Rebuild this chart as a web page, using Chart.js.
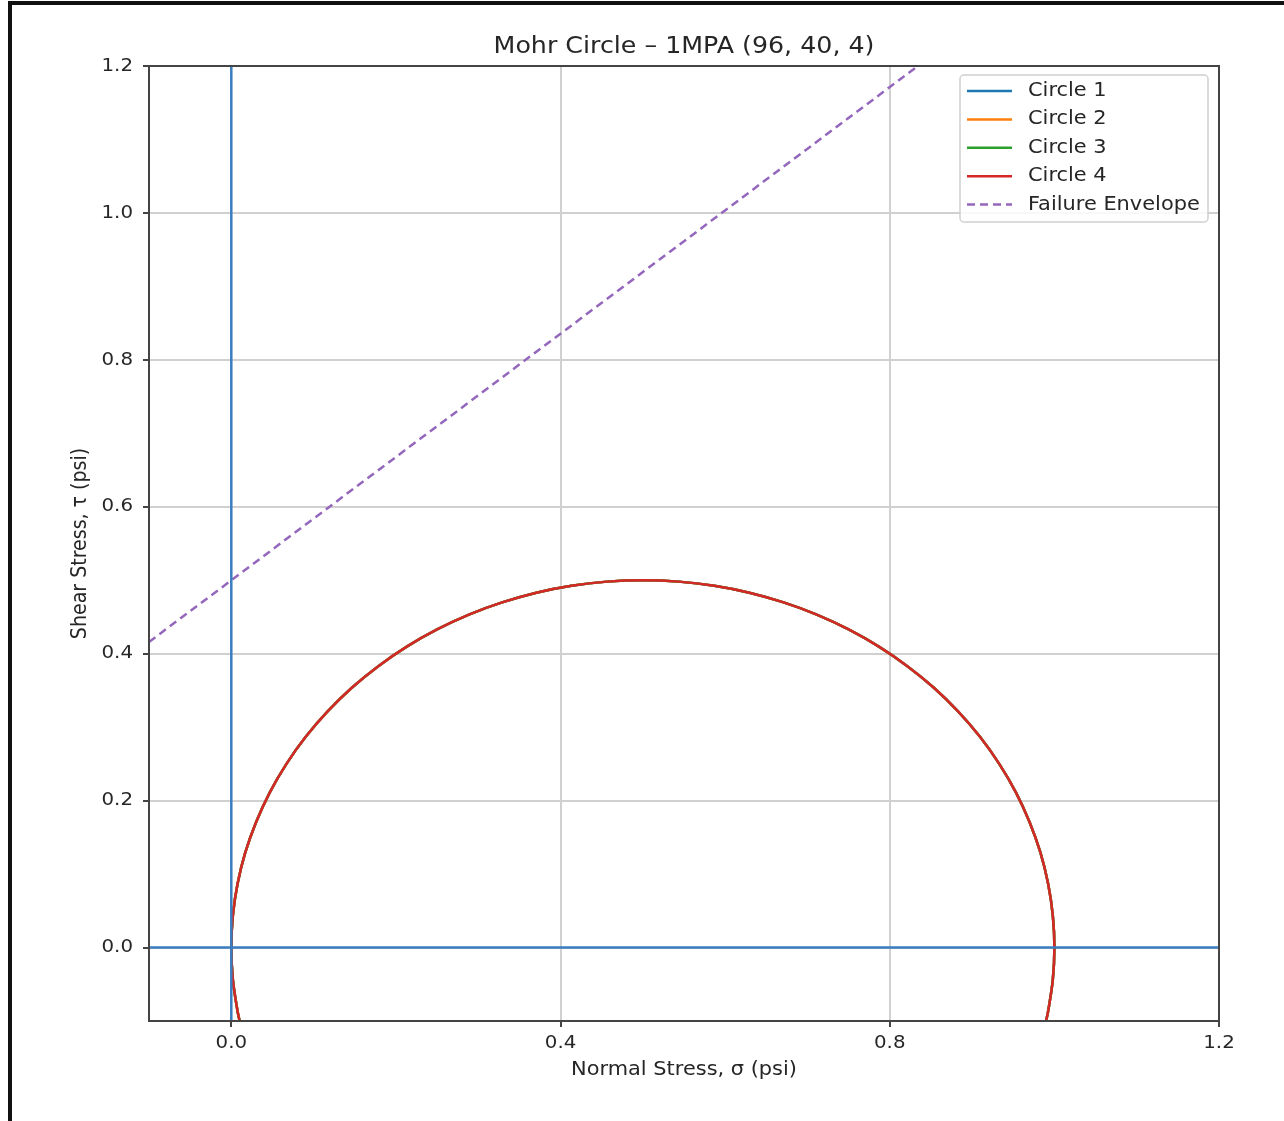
<!DOCTYPE html>
<html lang="en">
<head>
  <meta charset="UTF-8">
  <title>Mohr Circle</title>
  <script src="https://cdn.jsdelivr.net/npm/chart.js"></script>
  <style>
    body { margin: 0; background: #fff; }
    #frame { position: absolute; left: 8px; top: 1px; width: 1300px; height: 1140px;
             border-top: 4px solid #111; border-left: 4px solid #111; }
    #mohr { position: absolute; left: 0; top: 0; }
  </style>
</head>
<body>
  <div id="frame"></div>
  <canvas id="mohr" width="1284" height="1121"></canvas>

  <script>
    // values
    const xTicks = [0.0, 0.4, 0.8, 1.2];
    const yTicks = [0.0, 0.2, 0.4, 0.6, 0.8, 1.0, 1.2];

    // circle points (centre 0.5, radius 0.5)
    const circleX = [0.0101, 0.0076, 0.0019, 0.0, 0.0019, 0.0076, 0.0170, 0.0302, 0.0468, 0.0670, 0.0904,
                     0.1170, 0.1464, 0.1786, 0.2132, 0.25, 0.2887, 0.3290, 0.3706, 0.4132, 0.4564, 0.5,
                     0.5436, 0.5868, 0.6294, 0.6710, 0.7113, 0.75, 0.7868, 0.8214, 0.8536, 0.8830, 0.9096,
                     0.9330, 0.9532, 0.9698, 0.9830, 0.9924, 0.9981, 1.0, 0.9981, 0.9924, 0.9899];
    const circleY = [-0.1, -0.0868, -0.0436, 0.0, 0.0436, 0.0868, 0.1294, 0.1710, 0.2113, 0.25, 0.2868,
                     0.3214, 0.3536, 0.3830, 0.4096, 0.4330, 0.4532, 0.4698, 0.4830, 0.4924, 0.4981, 0.5,
                     0.4981, 0.4924, 0.4830, 0.4698, 0.4532, 0.4330, 0.4096, 0.3830, 0.3536, 0.3214, 0.2868,
                     0.25, 0.2113, 0.1710, 0.1294, 0.0868, 0.0436, 0.0, -0.0436, -0.0868, -0.1];

    const envelopeX = [-0.1, 1.2];
    const envelopeY = [0.416, 1.507];

    const hLineX = [-0.1, 1.2];
    const hLineY = [0, 0];
    const vLineX = [0, 0];
    const vLineY = [-0.1, 1.2];

    const circleLabels = ['Circle 1', 'Circle 2', 'Circle 3', 'Circle 4'];
    const circleColors = ['#1f77b4', '#ff7f0e', '#2ca02c', '#d62728'];

    const pts = (xs, ys) => xs.map((x, i) => ({ x: x, y: ys[i] }));
    const FONT = 'DejaVu Sans';
    const STRETCH = 1.1; // the reference text is a bit wide

    const datasets = [];
    circleLabels.forEach((lab, i) => {
      datasets.push({
        label: lab, data: pts(circleX, circleY), borderColor: circleColors[i],
        borderWidth: 2.5, tension: 0.33, order: 10 - i, inLegend: true
      });
    });
    datasets.push({
      label: 'Failure Envelope', data: pts(envelopeX, envelopeY), borderColor: '#9467bd',
      borderWidth: 2.5, borderDash: [8, 5], order: 5, inLegend: true
    });
    datasets.push({ label: 'h', data: pts(hLineX, hLineY), borderColor: '#3a7dc0', borderWidth: 2.5, order: 1 });
    datasets.push({ label: 'v', data: pts(vLineX, vLineY), borderColor: '#3a7dc0', borderWidth: 2.5, order: 1 });
    datasets.forEach(d => { d.showLine = true; d.pointRadius = 0; d.fill = false; d.clip = 0; });

    function wideText(c, txt, x, y, align, size, rot) {
      c.save();
      c.translate(x, y);
      c.scale(STRETCH, 1);
      if (rot) c.rotate(rot);
      c.font = size + 'px "' + FONT + '"';
      c.textAlign = align;
      c.textBaseline = 'middle';
      c.fillStyle = '#262626';
      c.fillText(txt, 0, 0);
      c.restore();
    }

    // frame, texts and legend drawn by hand
    const decor = {
      id: 'decor',
      afterDraw(chart) {
        const c = chart.ctx, a = chart.chartArea;
        const sx = chart.scales.x, sy = chart.scales.y;
        c.save();
        c.strokeStyle = '#444';
        c.lineWidth = 2;
        c.strokeRect(a.left, a.top, a.right - a.left, a.bottom - a.top);
        c.restore();

        xTicks.forEach(v => wideText(c, v.toFixed(1), sx.getPixelForValue(v), 1043, 'center', 18));
        yTicks.forEach(v => wideText(c, v.toFixed(1), 133, sy.getPixelForValue(v), 'right', 18));

        const cx = (a.left + a.right) / 2;
        wideText(c, 'Mohr Circle \u2013 1MPA (96, 40, 4)', cx, 47, 'center', 23);
        wideText(c, 'Normal Stress, \u03c3 (psi)', cx, 1070, 'center', 19);
        wideText(c, 'Shear Stress, \u03c4 (psi)', 81, (a.top + a.bottom) / 2, 'center', 19, -Math.PI / 2);

        // legend
        c.save();
        const lx = 960, ly = 75, lw = 248, lh = 147;
        c.fillStyle = 'rgba(255,255,255,0.85)';
        c.strokeStyle = '#d0d0d0';
        c.lineWidth = 1.5;
        c.beginPath();
        c.roundRect(lx, ly, lw, lh, 4);
        c.fill();
        c.stroke();
        chart.data.datasets.filter(d => d.inLegend).forEach((d, i) => {
          const y = 91 + i * 28.4;
          c.strokeStyle = d.borderColor;
          c.lineWidth = 2.5;
          c.setLineDash(d.borderDash || []);
          c.beginPath();
          c.moveTo(967, y);
          c.lineTo(1012, y);
          c.stroke();
          c.setLineDash([]);
          wideText(c, d.label, 1028, y, 'left', 19);
        });
        c.restore();
      }
    };

    new Chart(document.getElementById('mohr'), {
      type: 'scatter',
      data: { datasets: datasets },
      options: {
        responsive: false,
        animation: false,
        layout: { padding: { left: 0, right: 65, top: 66, bottom: 0 } },
        plugins: { legend: { display: false }, tooltip: { enabled: false }, title: { display: false } },
        scales: {
          x: {
            type: 'linear', min: -0.1, max: 1.2,
            afterBuildTicks: s => { s.ticks = xTicks.map(v => ({ value: v })); },
            afterFit: s => { s.height = 100; },
            grid: { color: '#d0d0d0', lineWidth: 2, tickColor: '#444', tickLength: 6 },
            border: { display: false },
            ticks: { color: 'rgba(0,0,0,0)', padding: 4, maxRotation: 0, font: { family: FONT, size: 18 },
                     callback: v => v.toFixed(1) }
          },
          y: {
            type: 'linear', min: -0.1, max: 1.2,
            afterBuildTicks: s => { s.ticks = yTicks.map(v => ({ value: v })); },
            afterFit: s => { s.width = 149; },
            grid: { color: '#d0d0d0', lineWidth: 2, tickColor: '#444', tickLength: 6 },
            border: { display: false },
            ticks: { color: 'rgba(0,0,0,0)', padding: 6, font: { family: FONT, size: 18 },
                     callback: v => v.toFixed(1) }
          }
        }
      },
      plugins: [decor]
    });
  </script>
</body>
</html>
